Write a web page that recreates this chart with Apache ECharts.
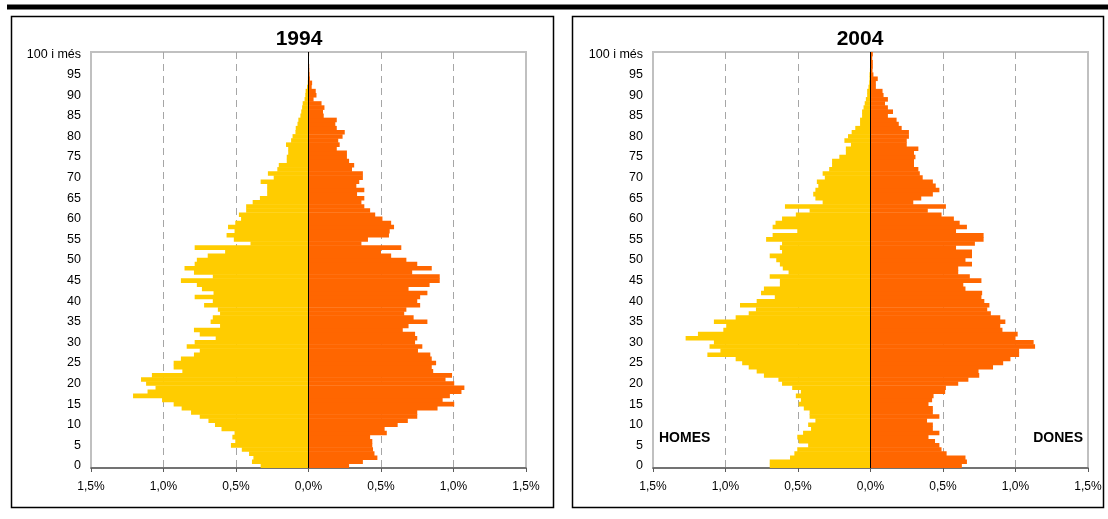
<!DOCTYPE html>
<html lang="ca">
<head>
    <meta charset="UTF-8">
    <title>Piràmides 1994 - 2004</title>
    <script src="https://cdn.jsdelivr.net/npm/echarts@6/dist/echarts.min.js"></script>
    <style>
        html, body {margin: 0; padding: 0; background: #fff;}
        #main {width: 1108px; height: 519px;}
    </style>
</head>
<body>
    <div id="main"></div>
    <script>
    // edats 0..99 i "100 i més"
    var ages = [];
    for (var i = 0; i < 100; i++) ages.push(String(i));
    ages.push('100 i més');

    var xTicks = [-1.5, -1.0, -0.5, 0, 0.5, 1.0, 1.5];

    // % de la població, 1994
    var homes1994 = [
        0.33, 0.39, 0.38, 0.41, 0.46, 0.535, 0.505, 0.525, 0.51, 0.60,
        0.645, 0.69, 0.75, 0.81, 0.875, 0.93, 1.01, 1.21, 1.11, 1.055,
        1.12, 1.155, 1.08, 0.87, 0.93, 0.93, 0.88, 0.79, 0.75, 0.84,
        0.785, 0.64, 0.75, 0.79, 0.61, 0.675, 0.66, 0.61, 0.625, 0.72,
        0.66, 0.785, 0.655, 0.735, 0.77, 0.88, 0.66, 0.79, 0.855, 0.785,
        0.77, 0.695, 0.575, 0.785, 0.40, 0.515, 0.565, 0.51, 0.555, 0.505,
        0.465, 0.48, 0.43, 0.43, 0.385, 0.335, 0.285, 0.285, 0.285, 0.33,
        0.24, 0.28, 0.215, 0.205, 0.15, 0.15, 0.14, 0.14, 0.155, 0.12,
        0.11, 0.09, 0.088, 0.076, 0.07, 0.056, 0.05, 0.044, 0.04, 0.027,
        0.022, 0.02, 0.01, 0.005, 0.004, 0.003, 0.002, 0.002, 0.001, 0.001,
        0.002
    ];
    var dones1994 = [
        0.28, 0.375, 0.475, 0.455, 0.445, 0.44, 0.44, 0.425, 0.54, 0.525,
        0.615, 0.685, 0.75, 0.75, 0.89, 1.005, 0.925, 0.975, 1.055, 1.075,
        1.005, 0.945, 0.99, 0.86, 0.85, 0.88, 0.85, 0.84, 0.755, 0.785,
        0.735, 0.75, 0.735, 0.65, 0.69, 0.82, 0.725, 0.66, 0.675, 0.77,
        0.75, 0.77, 0.82, 0.69, 0.835, 0.905, 0.905, 0.715, 0.85, 0.75,
        0.675, 0.57, 0.50, 0.64, 0.365, 0.41, 0.555, 0.56, 0.59, 0.57,
        0.51, 0.46, 0.425, 0.385, 0.365, 0.385, 0.335, 0.385, 0.33, 0.35,
        0.375, 0.375, 0.30, 0.315, 0.28, 0.265, 0.265, 0.195, 0.215, 0.205,
        0.235, 0.25, 0.195, 0.185, 0.195, 0.105, 0.10, 0.11, 0.09, 0.035,
        0.055, 0.05, 0.022, 0.025, 0.01, 0.008, 0.006, 0.005, 0.003, 0.002,
        0.004
    ];

    // % de la població, 2004
    var homes2004 = [
        0.695, 0.695, 0.555, 0.525, 0.505, 0.43, 0.495, 0.505, 0.465, 0.41,
        0.43, 0.38, 0.42, 0.42, 0.46, 0.495, 0.48, 0.515, 0.48, 0.54,
        0.61, 0.635, 0.735, 0.785, 0.84, 0.885, 0.93, 1.125, 1.035, 1.11,
        1.08, 1.275, 1.19, 1.015, 0.995, 1.08, 0.93, 0.84, 0.79, 0.90,
        0.785, 0.66, 0.755, 0.735, 0.625, 0.625, 0.695, 0.565, 0.605, 0.625,
        0.65, 0.695, 0.61, 0.625, 0.61, 0.72, 0.675, 0.505, 0.675, 0.655,
        0.61, 0.515, 0.42, 0.59, 0.33, 0.38, 0.395, 0.38, 0.36, 0.37,
        0.315, 0.33, 0.285, 0.265, 0.265, 0.215, 0.17, 0.17, 0.135, 0.18,
        0.155, 0.13, 0.105, 0.072, 0.072, 0.058, 0.058, 0.048, 0.04, 0.032,
        0.023, 0.023, 0.014, 0.009, 0.007, 0.007, 0.004, 0.003, 0.002, 0.001,
        0.002
    ];
    var dones2004 = [
        0.63, 0.665, 0.655, 0.525, 0.49, 0.475, 0.445, 0.40, 0.475, 0.43,
        0.43, 0.39, 0.475, 0.43, 0.43, 0.40, 0.425, 0.435, 0.515, 0.52,
        0.605, 0.675, 0.75, 0.745, 0.845, 0.915, 0.965, 1.025, 1.025, 1.135,
        1.125, 1.00, 1.015, 0.91, 0.895, 0.93, 0.895, 0.83, 0.805, 0.82,
        0.785, 0.765, 0.77, 0.655, 0.64, 0.765, 0.685, 0.605, 0.605, 0.70,
        0.655, 0.70, 0.70, 0.59, 0.72, 0.78, 0.78, 0.59, 0.665, 0.615,
        0.575, 0.49, 0.395, 0.52, 0.295, 0.35, 0.43, 0.475, 0.45, 0.43,
        0.36, 0.34, 0.33, 0.30, 0.30, 0.31, 0.30, 0.33, 0.25, 0.25,
        0.265, 0.265, 0.215, 0.195, 0.18, 0.12, 0.155, 0.12, 0.10, 0.12,
        0.09, 0.083, 0.037, 0.037, 0.05, 0.02, 0.014, 0.016, 0.016, 0.012,
        0.016
    ];

    var FONT = '"Liberation Sans", Arial, sans-serif';

    function neg(arr) { return arr.map(function (v) { return -v; }); }
    function pct(v) { return Math.abs(v).toFixed(1).replace('.', ',') + '%'; }

    var gridColors = xTicks.map(function (t) {
        return (t === 0 || Math.abs(t) === 1.5) ? 'rgba(0,0,0,0)' : '#a6a6a6';
    });

    function makeXAxis(idx) {
        return {
            gridIndex: idx,
            type: 'value',
            min: -1.5, max: 1.5, interval: 0.5,
            axisLine: {show: true, lineStyle: {color: '#5a5a5a', width: 1.5}},
            axisTick: {show: true, length: 4, lineStyle: {color: '#5a5a5a'}},
            axisLabel: {
                formatter: pct, color: '#000', fontSize: 12, fontFamily: FONT, margin: 13
            },
            splitLine: {show: true, lineStyle: {color: gridColors, type: [7, 5], width: 1}}
        };
    }
    function makeYAxis(idx) {
        return {
            gridIndex: idx,
            type: 'category',
            data: ages,
            axisLine: {show: false},
            axisTick: {show: false},
            axisLabel: {
                interval: function (i) { return i % 5 === 0; },
                color: '#000', fontSize: 12.5, fontFamily: FONT, margin: 10
            },
            splitLine: {show: false}
        };
    }
    // barres una mica més gruixudes que la banda per evitar línies blanques
    function makeSeries(idx, men, women) {
        return [
            {
                name: 'Homes', type: 'bar', xAxisIndex: idx, yAxisIndex: idx,
                data: neg(men), barWidth: 4.6, barGap: '-100%',
                itemStyle: {color: '#FFCC00'}, silent: true
            },
            {
                name: 'Dones', type: 'bar', xAxisIndex: idx, yAxisIndex: idx,
                data: women, barWidth: 4.6, barGap: '-100%',
                itemStyle: {color: '#FF6600'}, silent: true,
                markLine: {
                    silent: true, symbol: ['none', 'none'], label: {show: false},
                    lineStyle: {color: '#000', width: 1, type: 'solid'},
                    data: [{xAxis: 0}]
                }
            }
        ];
    }

    var myChart = echarts.init(document.getElementById('main'));
    var option = {
        animation: false,
        backgroundColor: '#fff',
        grid: [
            {left: 91, top: 52, width: 435, height: 416, show: true, borderColor: '#c0c0c0', borderWidth: 2, containLabel: false},
            {left: 653, top: 52, width: 435, height: 416, show: true, borderColor: '#c0c0c0', borderWidth: 2, containLabel: false}
        ],
        xAxis: [makeXAxis(0), makeXAxis(1)],
        yAxis: [makeYAxis(0), makeYAxis(1)],
        series: makeSeries(0, homes1994, dones1994).concat(makeSeries(1, homes2004, dones2004)),
        graphic: [
            {type: 'rect', shape: {x: 7, y: 4.5, width: 1101, height: 5}, style: {fill: '#000'}},
            {type: 'rect', shape: {x: 11.5, y: 16.5, width: 542, height: 491}, style: {fill: 'none', stroke: '#000', lineWidth: 1.5}},
            {type: 'rect', shape: {x: 572.5, y: 16.5, width: 531, height: 491}, style: {fill: 'none', stroke: '#000', lineWidth: 1.5}},
            {type: 'text', x: 299, y: 39.5, style: {text: '1994', font: 'bold 21px ' + FONT, fill: '#000', align: 'center', verticalAlign: 'middle'}},
            {type: 'text', x: 860, y: 39.5, style: {text: '2004', font: 'bold 21px ' + FONT, fill: '#000', align: 'center', verticalAlign: 'middle'}},
            {type: 'text', x: 659, y: 438, style: {text: 'HOMES', font: 'bold 14px ' + FONT, fill: '#000', align: 'left', verticalAlign: 'middle'}},
            {type: 'text', x: 1083, y: 438, style: {text: 'DONES', font: 'bold 14px ' + FONT, fill: '#000', align: 'right', verticalAlign: 'middle'}}
        ]
    };
    myChart.setOption(option);
    </script>
</body>
</html>
